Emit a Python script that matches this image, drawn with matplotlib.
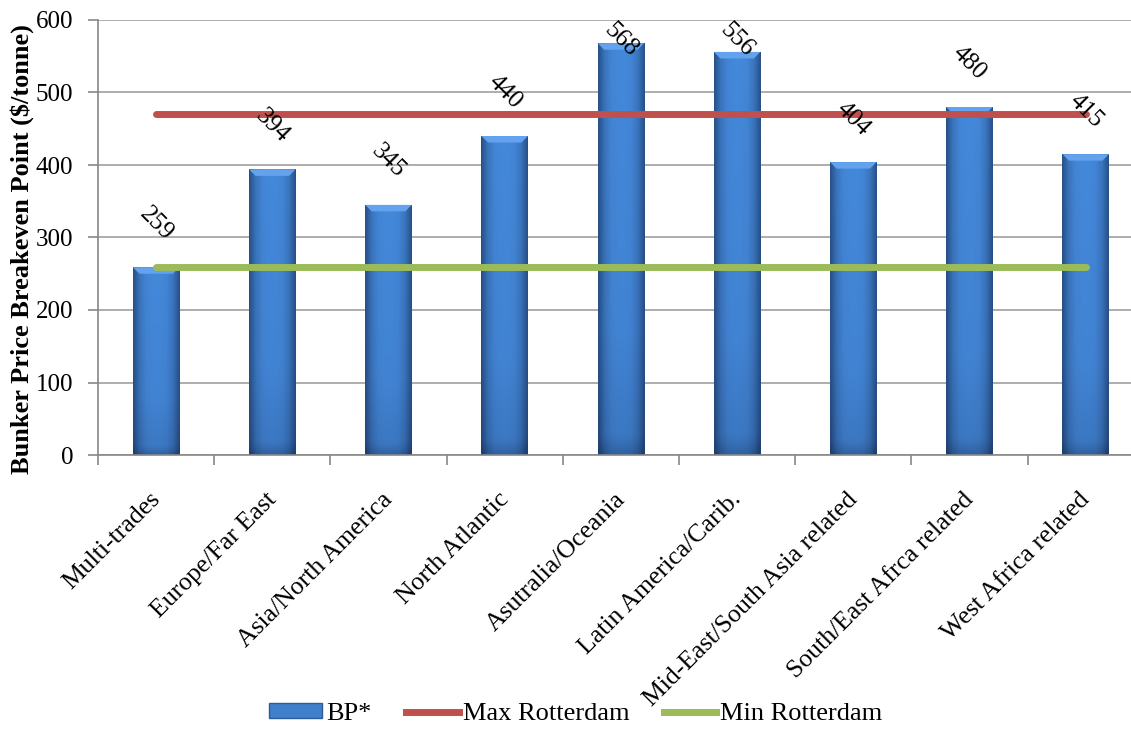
import numpy as np
import matplotlib.pyplot as plt
import matplotlib.transforms as mtransforms
from matplotlib.colors import LinearSegmentedColormap
from matplotlib.lines import Line2D
from matplotlib.patches import Patch

plt.rcParams['font.family'] = ['Liberation Serif', 'DejaVu Serif']

regions = ['Multi-trades', 'Europe/Far East', 'Asia/North America', 'North Atlantic',
           'Asutralia/Oceania', 'Latin America/Carib.', 'Mid-East/South Asia related',
           'South/East Afrca related', 'West Africa related']
bp = [259, 394, 345, 440, 568, 556, 404, 480, 415]
max_rotterdam = [470] * len(regions)
min_rotterdam = [260] * len(regions)

fig = plt.figure(figsize=(11.31, 7.29), dpi=100)
ax = fig.add_axes([98 / 1131, (729 - 455) / 729, 9 * 116.2 / 1131, 435 / 729])

x = np.arange(len(regions))
width = 0.4

# shaded bar fill: darker at the sides and slightly towards the base
side = np.array([0.66, 0.88, 0.98, 1.0, 1.0, 0.98, 0.88, 0.66])
side = np.interp(np.linspace(0, 7, 64), np.arange(8), side)
depth = np.interp(np.linspace(0, 1, 64), [0, 0.04, 0.3, 1], [0.78, 0.9, 0.97, 1.0])
shade = depth[:, None] * side[None, :]
cmap = LinearSegmentedColormap.from_list('bar', ['#1f3f6e', '#4488da'])

bars = ax.bar(x, bp, width, color='#3f7fcc', zorder=2)
for b in bars:
    x0, y0, w, h = b.get_x(), b.get_y(), b.get_width(), b.get_height()
    im = ax.imshow(shade, cmap=cmap, vmin=0.55, vmax=1.0, aspect='auto', origin='lower',
                   extent=[x0, x0 + w, y0, y0 + h], zorder=2.1, interpolation='bilinear')
    im.set_clip_path(b)
    # bevelled top
    ax.fill([x0, x0 + w, x0 + w * 0.86, x0 + w * 0.14], [h, h, h - 9, h - 9],
            color='#62a2ee', zorder=2.2, lw=0)

ax.plot(x, max_rotterdam, color='#c0504d', lw=5, solid_capstyle='round', zorder=3)
ax.plot(x, min_rotterdam, color='#9bbb59', lw=5, solid_capstyle='round', zorder=3)

for xi, v in zip(x, bp):
    ax.text(xi, min(v + 60, 572), str(v), rotation=-45, ha='center', va='center',
            fontsize=18, zorder=4)

ax.set_xlim(-0.5, len(regions) - 0.5)
ax.set_ylim(0, 600)
ax.set_yticks(range(0, 601, 100))
ax.yaxis.grid(True, color='#a0a0a0', lw=1.2)
ax.set_axisbelow(True)
ax.tick_params(axis='y', labelsize=18, length=7, color='#888888', width=1.2, pad=11)
ax.set_ylabel('Bunker Price Breakeven Point ($/tonne)', fontsize=19, fontweight='bold')
ax.yaxis.set_label_coords(-0.061, 0.474)

ax.set_xticks(x)
ax.set_xticklabels(regions, rotation=45, ha='right', rotation_mode='anchor', fontsize=18.5)
ax.tick_params(axis='x', length=0, pad=24)
shift = mtransforms.ScaledTranslation(-0.07, 0, fig.dpi_scale_trans)
for lbl in ax.get_xticklabels():
    lbl.set_transform(lbl.get_transform() + shift)
ax.set_xticks(np.arange(-0.5, len(regions), 1), minor=True)
ax.tick_params(axis='x', which='minor', length=7, color='#888888', width=1.2)

for s in ['top', 'right']:
    ax.spines[s].set_visible(False)
for s in ['left', 'bottom']:
    ax.spines[s].set_color('#888888')
    ax.spines[s].set_linewidth(1.2)

handles = [Patch(facecolor='#3f7fcc', edgecolor='#2b5c98', label='BP*'),
           Line2D([], [], color='#c0504d', lw=5, label='Max Rotterdam'),
           Line2D([], [], color='#9bbb59', lw=5, label='Min Rotterdam')]
fig.legend(handles=handles, loc='center', bbox_to_anchor=(576 / 1131, 1 - 714 / 729), ncol=3,
           frameon=False, fontsize=19, handlelength=2.0, handletextpad=0.15, columnspacing=1.3,
           handleheight=0.5)

fig.savefig('out.png', dpi=100)
